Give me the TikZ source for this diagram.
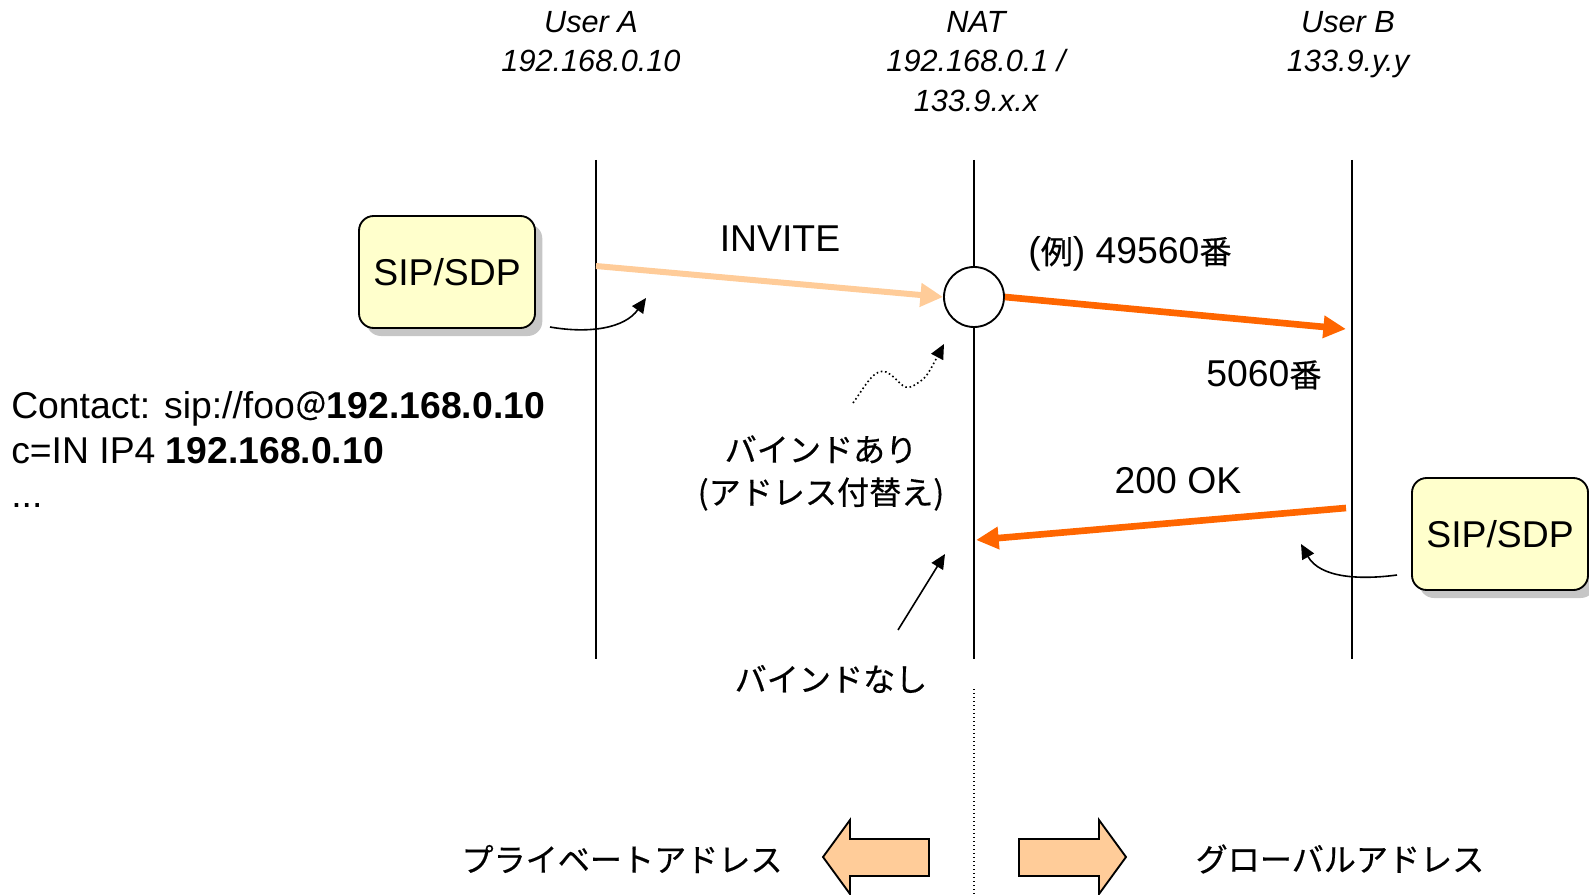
\documentclass[tikz,border=0pt]{standalone}
\usepackage{fontspec}
\setmainfont{Liberation Sans}
\newfontfamily\jp[Scale=0.86,FakeBold=0.5]{Noto Sans CJK JP}
\newcommand\ja[1]{{\jp #1}}
\usetikzlibrary{arrows.meta,shadows}
\definecolor{sipfill}{HTML}{FFFFCC}
\definecolor{lightor}{HTML}{FFCC99}
\definecolor{darkor}{HTML}{FF6600}
\begin{document}
\begin{tikzpicture}[x=0.75pt,y=-0.75pt,
  lbl/.style={font=\fontsize{28}{34}\selectfont, inner sep=0pt},
  jlbl/.style={font=\fontsize{28}{32}\selectfont\jp, inner sep=0pt},
  hdr/.style={font=\fontsize{23}{29.5}\selectfont\itshape, align=center, inner sep=0pt, anchor=north},
  lifeline/.style={line width=1.4pt},
  sipbox/.style={draw, line width=1.4pt, rounded corners=11pt, fill=sipfill,
     minimum width=132pt, minimum height=84pt, font=\fontsize{28}{34}\selectfont,
     general shadow={fill=gray!45, shadow xshift=5.5pt, shadow yshift=-6pt}},
  msglight/.style={draw=lightor, line width=4.5pt, -{Triangle[length=17pt,width=17pt]}},
  msgdark/.style={draw=darkor, line width=5pt, -{Triangle[length=17pt,width=16pt]}},
  pointer/.style={line width=1.2pt, -{Triangle[length=11pt,width=10pt]}},
  blockarrow/.style={draw, line width=1.4pt, fill=lightor, line join=miter}
]
\useasboundingbox (0,0) rectangle (1589,895);

% headers
\node[hdr] (hA) at (591,11) {User A\\192.168.0.10};
\node[hdr] (hN) at (976,11) {NAT\\192.168.0.1 /\\133.9.x.x};
\node[hdr] (hB) at (1348,11) {User B\\133.9.y.y};

% lifelines
\coordinate (At) at (596,160); \coordinate (Ab) at (596,659);
\coordinate (Nt) at (974,160); \coordinate (Nb) at (974,659);
\coordinate (Bt) at (1352,160); \coordinate (Bb) at (1352,659);
\draw[lifeline] (At) -- (Ab);
\draw[lifeline] (Nt) -- (Nb);
\draw[lifeline] (Bt) -- (Bb);
\coordinate (Nd1) at (974,689); \coordinate (Nd2) at (974,895);
\draw[line width=1pt, dotted] (Nd1) -- (Nd2);

% NAT circle
\node[circle, draw, fill=white, line width=1.4pt, minimum size=45pt, inner sep=0pt] (nat) at (974,297) {};

% SIP/SDP boxes
\node[sipbox] (sipA) at (447,272) {SIP/SDP};
\node[sipbox] (sipB) at (1500,534) {SIP/SDP};

% messages
\coordinate (a1) at (596,266);
\draw[msglight] (a1) -- (nat.west);
\node[lbl] (inv) at (780,239) {INVITE};

\coordinate (b1) at (1346,329);
\draw[msgdark] (nat.east) -- (b1);
\node[lbl] (port1) at (1130,254) {(\ja{例}) 49560\ja{番}};
\node[lbl] (port2) at (1264,375) {5060\ja{番}};

\coordinate (b2) at (1346,508);
\coordinate (n2) at (976,540);
\draw[msgdark] (b2) -- (n2);
\node[lbl] (ok) at (1178,481) {200 OK};

% pointers
\coordinate (c1) at (550,327); \coordinate (c2) at (646,298);
\draw[pointer] (c1) .. controls (590,334) and (625,328) .. (c2);
\coordinate (d1) at (1397,575); \coordinate (d2) at (1301,544);
\draw[pointer] (d1) .. controls (1360,580) and (1320,578) .. (d2);

\coordinate (w0) at (853,403); \coordinate (w1) at (944,344);
\draw[line width=1.2pt, dotted, -{Triangle[length=11pt,width=10pt]}]
  (w0) .. controls (866,385) and (874,368) .. (886,372)
       .. controls (898,377) and (902,392) .. (913,386)
       .. controls (926,378) .. (w1);

\coordinate (s0) at (898,630); \coordinate (s1) at (945,554);
\draw[pointer] (s0) -- (s1);

% japanese labels
\node[jlbl, align=center] (bind1) at (821,473) {バインドあり\\(アドレス付替え)};
\node[jlbl] (bind0) at (831,679) {バインドなし};

% contact text
\node[lbl, anchor=base west] (ct1) at (11,418) {Contact: sip://foo\ja{＠}\textbf{192.168.0.10}};
\node[lbl, anchor=base west] (ct2) at (11,463) {c=IN IP4 \textbf{192.168.0.10}};
\node[lbl, anchor=base west] (ct3) at (11,507) {...};

% bottom
\node[jlbl] (priv) at (622,859) {プライベートアドレス};
\node[jlbl] (glob) at (1340,859) {グローバルアドレス};
\draw[blockarrow] (823,857) -- (850,820) -- (850,839) -- (929,839) -- (929,876) -- (850,876) -- (850,894) -- cycle;
\draw[blockarrow] (1126,857) -- (1099,820) -- (1099,839) -- (1019,839) -- (1019,876) -- (1099,876) -- (1099,894) -- cycle;
\end{tikzpicture}
\end{document}
